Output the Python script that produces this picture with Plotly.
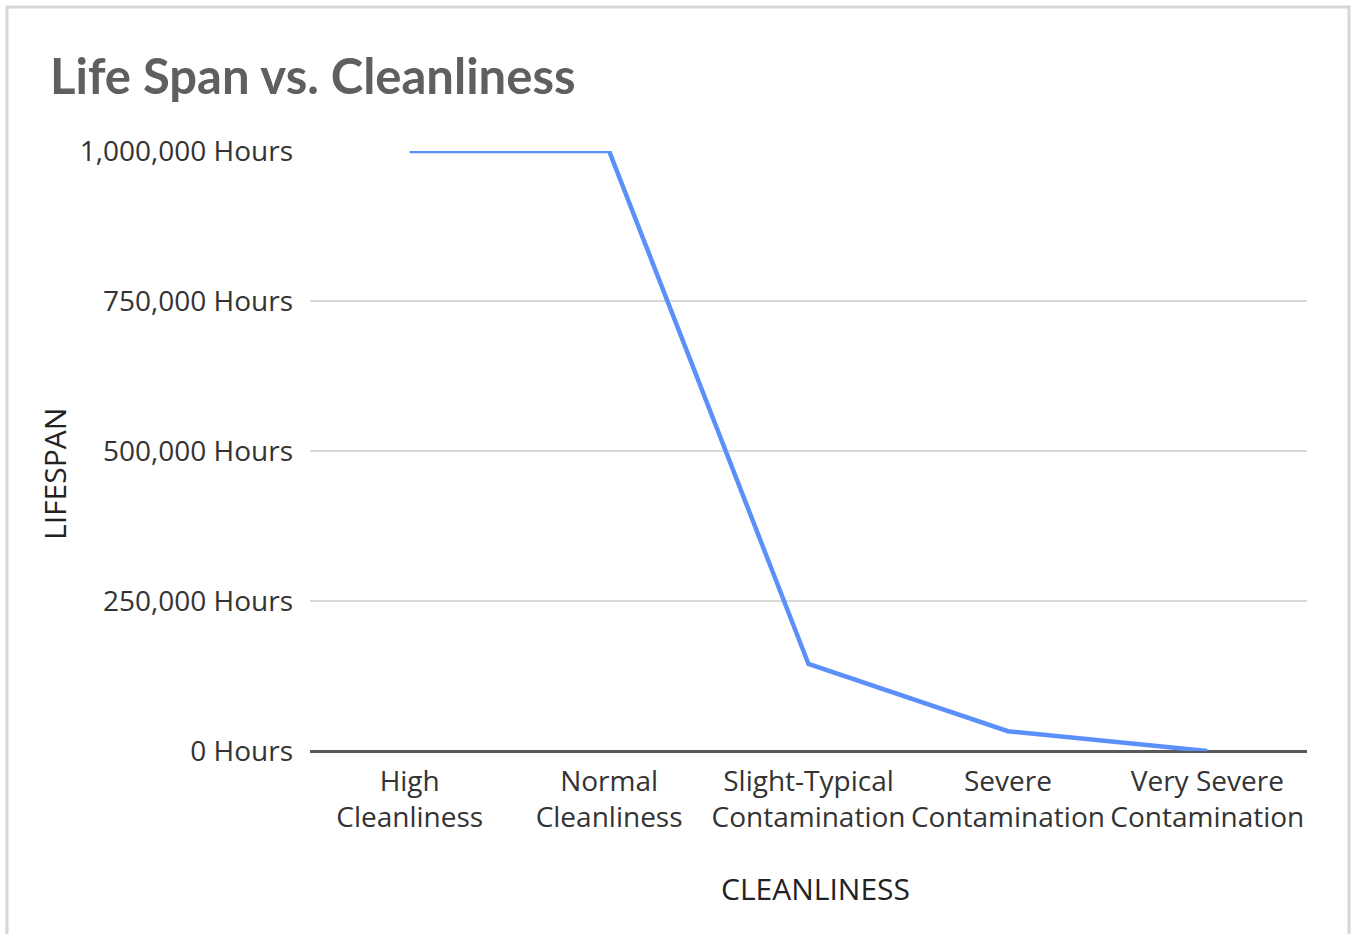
import plotly.graph_objects as go

# Cleanliness categories (two-line labels) and expected lifespan in hours
categories = [
    "High<br>Cleanliness",
    "Normal<br>Cleanliness",
    "Slight-Typical<br>Contamination",
    "Severe<br>Contamination",
    "Very Severe<br>Contamination",
]
lifespan_hours = [1000000, 1000000, 145000, 33000, 0]
y_ticks = [0, 250000, 500000, 750000, 1000000]
y_tick_text = [f"{v:,} Hours" for v in y_ticks]

TITLE_FONT = "Lato, Calibri, sans-serif"
FONT = "'Open Sans', Calibri, sans-serif"

# plot area in pixels: x 310..1307, y 151..751
PX_L, PX_R, PX_T, PX_B = 310, 1307, 151, 751


def paper_x(px):
    return (px - PX_L) / (PX_R - PX_L)


def paper_y(py):
    return (PX_B - py) / (PX_B - PX_T)


fig = go.Figure(
    go.Scatter(
        x=categories,
        y=lifespan_hours,
        mode="lines",
        line=dict(color="#5b8ff9", width=4.5),
        cliponaxis=False,
        hoverinfo="x+y",
    )
)

fig.update_layout(
    width=1355,
    height=934,
    margin=dict(l=PX_L, r=1355 - PX_R, t=PX_T, b=934 - PX_B),
    paper_bgcolor="white",
    plot_bgcolor="white",
    showlegend=False,
    font=dict(family=FONT, size=28, color="#333333"),
    title=dict(
        text="<b>Life Span vs. Cleanliness</b>",
        font=dict(family=TITLE_FONT, size=49, color="#5f5f5f"),
        xref="container", yref="container",
        x=50 / 1355, xanchor="left",
        y=1 - 77 / 934, yanchor="middle",
    ),
    xaxis=dict(
        type="category",
        range=[-0.5, 4.5],
        showgrid=False,
        showline=False,
        ticks="",
        ticklabelstandoff=11,
        tickfont=dict(size=28, color="#333333"),
    ),
    yaxis=dict(
        range=[0, 1000000],
        tickvals=y_ticks,
        ticktext=y_tick_text,
        showgrid=True,
        gridcolor="#d9d9d9",
        gridwidth=2,
        zeroline=True,
        zerolinecolor="#595959",
        zerolinewidth=3,
        ticks="",
        ticklabelstandoff=16,
        tickfont=dict(size=28, color="#333333"),
    ),
    annotations=[
        dict(
            text="CLEANLINESS", showarrow=False,
            xref="paper", yref="paper",
            x=paper_x(815), y=paper_y(888),
            xanchor="center", yanchor="middle",
            font=dict(size=30, color="#222222"),
        ),
        dict(
            text="LIFESPAN", showarrow=False, textangle=-90,
            xref="paper", yref="paper",
            x=paper_x(54), y=paper_y(474),
            xanchor="center", yanchor="middle",
            font=dict(size=30, color="#222222"),
        ),
    ],
    shapes=[
        dict(
            type="rect", xref="paper", yref="paper",
            x0=paper_x(7), x1=paper_x(1349),
            y0=paper_y(960), y1=paper_y(7),
            line=dict(color="#d6d6d6", width=3),
            fillcolor="rgba(0,0,0,0)",
            layer="below",
        )
    ],
)

fig.write_html("out.html")
